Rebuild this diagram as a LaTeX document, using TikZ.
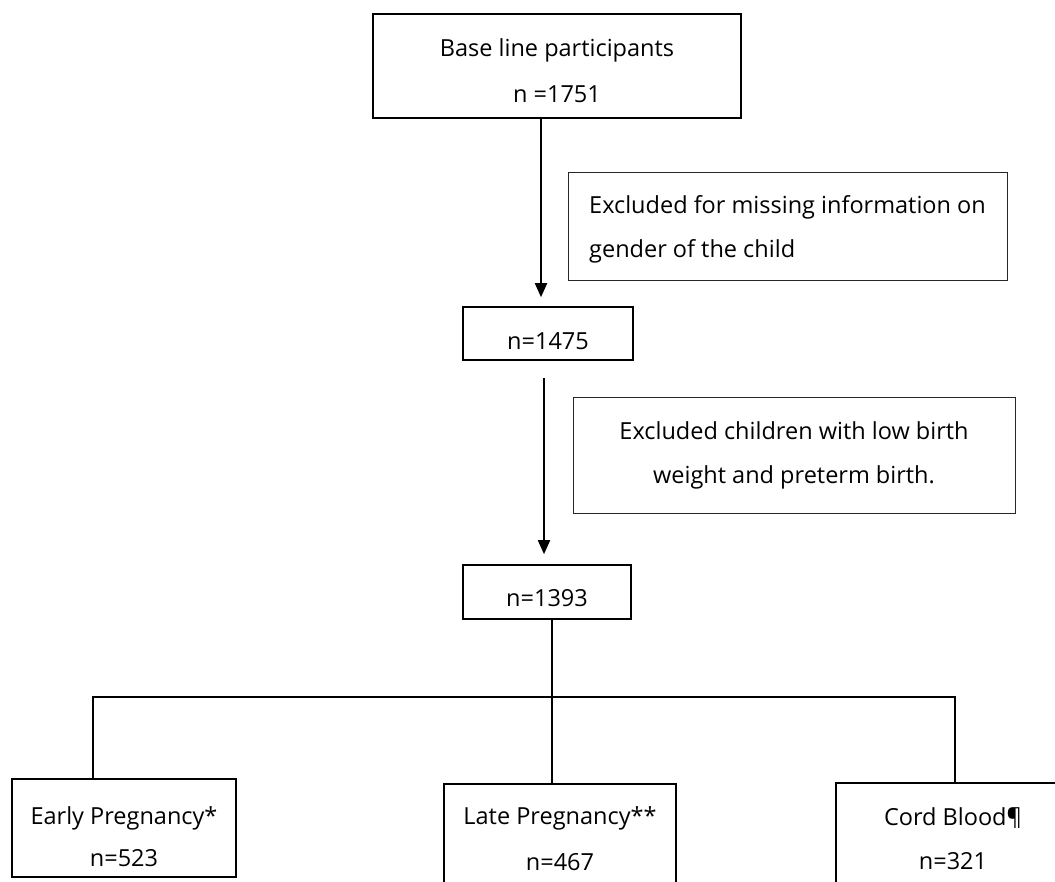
\documentclass[tikz,border=0pt]{standalone}
\usepackage{fontspec}
\setmainfont{Open Sans}
\usetikzlibrary{arrows.meta}
\newcommand{\lift}[1]{\rule{0pt}{#1pt}}

\begin{document}
\begin{tikzpicture}[x=1pt,y=-1pt,
    box/.style={draw=black,line width=1.6pt,inner sep=0pt,align=center,
      font=\fontsize{23.5}{44}\selectfont},
    exbox/.style={draw=black!85,line width=1pt,inner sep=0pt,
      font=\fontsize{23.5}{44}\selectfont},
    link/.style={black,line width=1.8pt},
    arr/.style={link,-{Triangle[length=14pt,width=12pt]}}]
    \clip (0,0) rectangle (1055,881);
    \node [box,minimum width=368,minimum height=104] (base) at (557,66) {\lift{27}Base line participants\\[2pt]n =1751};
    \node [exbox,minimum width=439,minimum height=108,align=left] (ex1) at (787.5,226) {\lift{25}Excluded for missing information on\\gender of the child};
    \node [box,minimum width=170,minimum height=53] (n1475) at (548,333.5) {\lift{33}n=1475};
    \node [exbox,minimum width=442,minimum height=116,align=center] (ex2) at (794,455) {Excluded children with low birth\\weight and preterm birth.};
    \node [box,minimum width=168,minimum height=54] (n1393) at (547,592) {\lift{30}n=1393};
    \node [box,minimum width=224,minimum height=98] (early) at (124,828) {\lift{35}Early Pregnancy*\\[-2pt]n=523};
    \node [box,minimum width=232,minimum height=100] (late) at (560,834) {\lift{27}Late Pregnancy**\\[2pt]n=467};
    \node [box,minimum width=234,minimum height=100] (cord) at (953,833) {\lift{29}Cord Blood¶\\n=321};
    \coordinate (a1) at (541,0);
    \coordinate (a2) at (544,0);
    \coordinate (hl) at (93,697);
    \coordinate (hm) at (552,697);
    \coordinate (hr) at (955,697);
    \draw [arr,shorten >=9pt] (base.south -| a1) -- (n1475.north -| a1);
    \draw [arr,shorten <=17pt,shorten >=10pt] (n1475.south -| a2) -- (n1393.north -| a2);
    \draw [link] (n1393.south -| hm) -- (late.north -| hm);
    \draw [link] (early.north -| hl) -- (hl) -- (hr) -- (cord.north -| hr);
\end{tikzpicture}
\end{document}
